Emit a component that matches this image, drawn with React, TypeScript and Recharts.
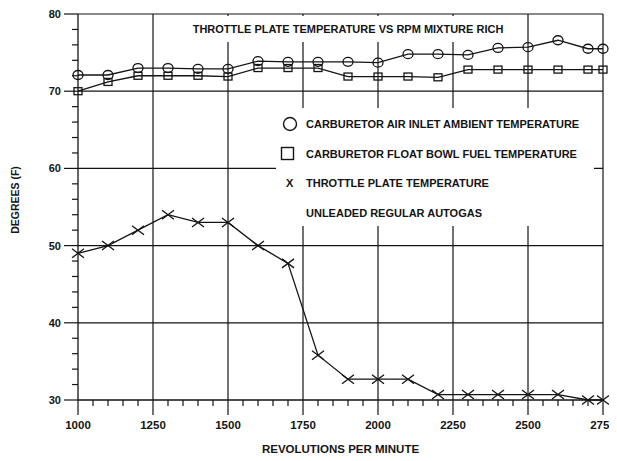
import React from 'react';
import { LineChart, Line, XAxis, YAxis, ReferenceLine, Legend } from 'recharts';

const rpm = [1000, 1100, 1200, 1300, 1400, 1500, 1600, 1700, 1800, 1900, 2000, 2100, 2200, 2300, 2400, 2500, 2600, 2700, 2750];
const airInlet = [72.1, 72.1, 73, 73, 72.9, 72.9, 73.9, 73.8, 73.8, 73.8, 73.7, 74.8, 74.8, 74.7, 75.6, 75.7, 76.6, 75.5, 75.5];
const floatBowl = [70, 71.2, 72, 72, 72, 71.9, 73, 73, 73, 71.9, 71.9, 71.9, 71.8, 72.8, 72.8, 72.8, 72.8, 72.8, 72.8];
const throttle = [49, 50, 52, 54, 53, 53, 50, 47.7, 35.8, 32.7, 32.7, 32.7, 30.7, 30.7, 30.7, 30.7, 30.7, 30, 30];

const xMajorTicks = [1000, 1250, 1500, 1750, 2000, 2250, 2500, 2750];
const yMajorTicks = [30, 40, 50, 60, 70, 80];
const xGrid = [1250, 1500, 1750, 2000, 2250, 2500, 2750];
const yGrid = [40, 50, 60, 70, 80];

const seriesNames = {
  air: 'CARBURETOR AIR INLET AMBIENT TEMPERATURE',
  bowl: 'CARBURETOR FLOAT BOWL FUEL TEMPERATURE',
  throttle: 'THROTTLE PLATE TEMPERATURE',
};
const title = 'THROTTLE PLATE TEMPERATURE VS RPM MIXTURE RICH';
const note = 'UNLEADED REGULAR AUTOGAS';
const xLabel = 'REVOLUTIONS PER MINUTE';
const yLabel = 'DEGREES (F)';

const xTicks: number[] = [];
for (let v = 1000; v <= 2750; v += 50) xTicks.push(v);
const yTicks: number[] = [];
for (let v = 30; v <= 80; v += 2) yTicks.push(v);

const data = rpm.map((r, i) => ({ rpm: r, air: airInlet[i], bowl: floatBowl[i], throttle: throttle[i] }));

const INK = '#141414';
const FONT = '"Liberation Sans", Arial, sans-serif';

const YTick = (props: any) => {
  const { x, y, payload } = props;
  const v = payload.value;
  const major = yMajorTicks.includes(v);
  return (
    <g>
      <line x1={x - (major ? 14 : 6)} x2={x} y1={y} y2={y} stroke={INK} strokeWidth={1.2} />
      {major && (
        <text x={x - 17} y={y} textAnchor="end" dominantBaseline="central" fontFamily={FONT} fontWeight="bold" fontSize={11} fill={INK}>
          {v}
        </text>
      )}
    </g>
  );
};

const XTick = (props: any) => {
  const { x, y, payload } = props;
  const v = payload.value;
  const major = xMajorTicks.includes(v);
  return (
    <g>
      <line x1={x} x2={x} y1={y} y2={y + (major ? 15 : 6)} stroke={INK} strokeWidth={1.2} />
      {major && (
        <text x={x} y={y + 25} textAnchor="middle" dominantBaseline="central" fontFamily={FONT} fontWeight="bold" fontSize={11.5} fill={INK}>
          {v}
        </text>
      )}
    </g>
  );
};

const CircleDot = (props: any) => {
  const { cx, cy, index } = props;
  if (cx == null || cy == null) return <g key={`c${index}`} />;
  return <ellipse key={`c${index}`} cx={cx} cy={cy} rx={5} ry={4.5} fill="none" stroke={INK} strokeWidth={1.3} />;
};
const SquareDot = (props: any) => {
  const { cx, cy, index } = props;
  if (cx == null || cy == null) return <g key={`s${index}`} />;
  return <rect key={`s${index}`} x={cx - 4} y={cy - 3.5} width={8} height={7} fill="none" stroke={INK} strokeWidth={1.3} />;
};
const CrossDot = (props: any) => {
  const { cx, cy, index } = props;
  if (cx == null || cy == null) return <g key={`x${index}`} />;
  return (
    <g key={`x${index}`}>
      <line x1={cx - 6} y1={cy - 4.5} x2={cx + 6} y2={cy + 4.5} stroke={INK} strokeWidth={1.3} />
      <line x1={cx - 6} y1={cy + 4.5} x2={cx + 6} y2={cy - 4.5} stroke={INK} strokeWidth={1.3} />
    </g>
  );
};

const YAxisLabel = (props: any) => {
  const vb = props.viewBox || { x: 10, y: 6 };
  const x = vb.x - 3;
  const y = vb.y + 186;
  return (
    <text x={x} y={y} transform={`rotate(-90, ${x}, ${y})`} textAnchor="middle" dominantBaseline="central" fontFamily={FONT} fontWeight="bold" fontSize={10.5} fill={INK}>
      {yLabel}
    </text>
  );
};

const rowStyle: React.CSSProperties = {
  position: 'absolute',
  left: 0,
  height: 16,
  lineHeight: '16px',
  fontFamily: FONT,
  fontWeight: 'bold',
  fontSize: 11,
  color: INK,
  whiteSpace: 'nowrap',
};

const LegendContent = () => (
  <div style={{ position: 'relative', width: 318, height: 118 }}>
    <div style={{ ...rowStyle, top: 8 }}>
      <svg width={20} height={16} style={{ position: 'absolute', left: 4, top: 0 }}>
        <circle cx={10} cy={8} r={6.5} fill="none" stroke={INK} strokeWidth={1.4} />
      </svg>
      <span style={{ position: 'absolute', left: 30 }}>{seriesNames.air}</span>
    </div>
    <div style={{ ...rowStyle, top: 37.5 }}>
      <svg width={20} height={16} style={{ position: 'absolute', left: 2, top: 0 }}>
        <rect x={3.5} y={1.5} width={12} height={12} fill="none" stroke={INK} strokeWidth={1.4} />
      </svg>
      <span style={{ position: 'absolute', left: 30 }}>{seriesNames.bowl}</span>
    </div>
    <div style={{ ...rowStyle, top: 67 }}>
      <span style={{ position: 'absolute', left: 10 }}>X</span>
      <span style={{ position: 'absolute', left: 30 }}>{seriesNames.throttle}</span>
    </div>
    <div style={{ ...rowStyle, top: 96.5 }}>
      <span style={{ position: 'absolute', left: 30 }}>{note}</span>
    </div>
  </div>
);

export default function App() {
  return (
    <div style={{ position: 'relative', width: 609, height: 445 }}>
      <style>{'.recharts-surface{overflow:visible}'}</style>
      <LineChart width={609} height={445} data={data} margin={{ top: 6, right: 14, bottom: 0, left: 10 }}>
        {yGrid.map((v) => (
          <ReferenceLine key={`gy${v}`} y={v} stroke={INK} strokeWidth={1.2} ifOverflow="visible" />
        ))}
        {xGrid.map((v) => (
          <ReferenceLine key={`gx${v}`} x={v} stroke={INK} strokeWidth={1.2} ifOverflow="visible" />
        ))}
        <XAxis
          dataKey="rpm"
          type="number"
          domain={[1000, 2750]}
          ticks={xTicks}
          interval={0}
          tick={<XTick />}
          tickLine={false}
          tickSize={0}
          tickMargin={0}
          height={53}
          axisLine={{ stroke: INK, strokeWidth: 1.3 }}
          label={{ value: xLabel, position: 'insideBottom', offset: 0, style: { fontFamily: FONT, fontWeight: 'bold', fontSize: 11.5, fill: INK } }}
        />
        <YAxis
          type="number"
          domain={[30, 80]}
          ticks={yTicks}
          interval={0}
          tick={<YTick />}
          tickLine={false}
          tickSize={0}
          tickMargin={0}
          width={60}
          axisLine={{ stroke: INK, strokeWidth: 1.3 }}
          label={{ content: <YAxisLabel /> }}
        />
        <Line dataKey="air" type="linear" stroke={INK} strokeWidth={1.3} dot={(p: any) => <CircleDot {...p} />} activeDot={false} isAnimationActive={false} />
        <Line dataKey="bowl" type="linear" stroke={INK} strokeWidth={1.3} dot={(p: any) => <SquareDot {...p} />} activeDot={false} isAnimationActive={false} />
        <Line dataKey="throttle" type="linear" stroke={INK} strokeWidth={1.3} dot={(p: any) => <CrossDot {...p} />} activeDot={false} isAnimationActive={false} />
        <Legend
          layout="vertical"
          align="center"
          verticalAlign="middle"
          content={<LegendContent />}
          wrapperStyle={{ left: 268, top: 100, width: 318, height: 118, background: '#fff' }}
        />
      </LineChart>
      <div
        style={{
          position: 'absolute',
          left: 178,
          top: 8,
          width: 324,
          height: 26,
          background: '#fff',
          display: 'flex',
          alignItems: 'center',
          justifyContent: 'center',
          fontFamily: FONT,
          fontWeight: 'bold',
          fontSize: 11,
          color: INK,
          whiteSpace: 'nowrap',
        }}
      >
        {title}
      </div>
    </div>
  );
}
